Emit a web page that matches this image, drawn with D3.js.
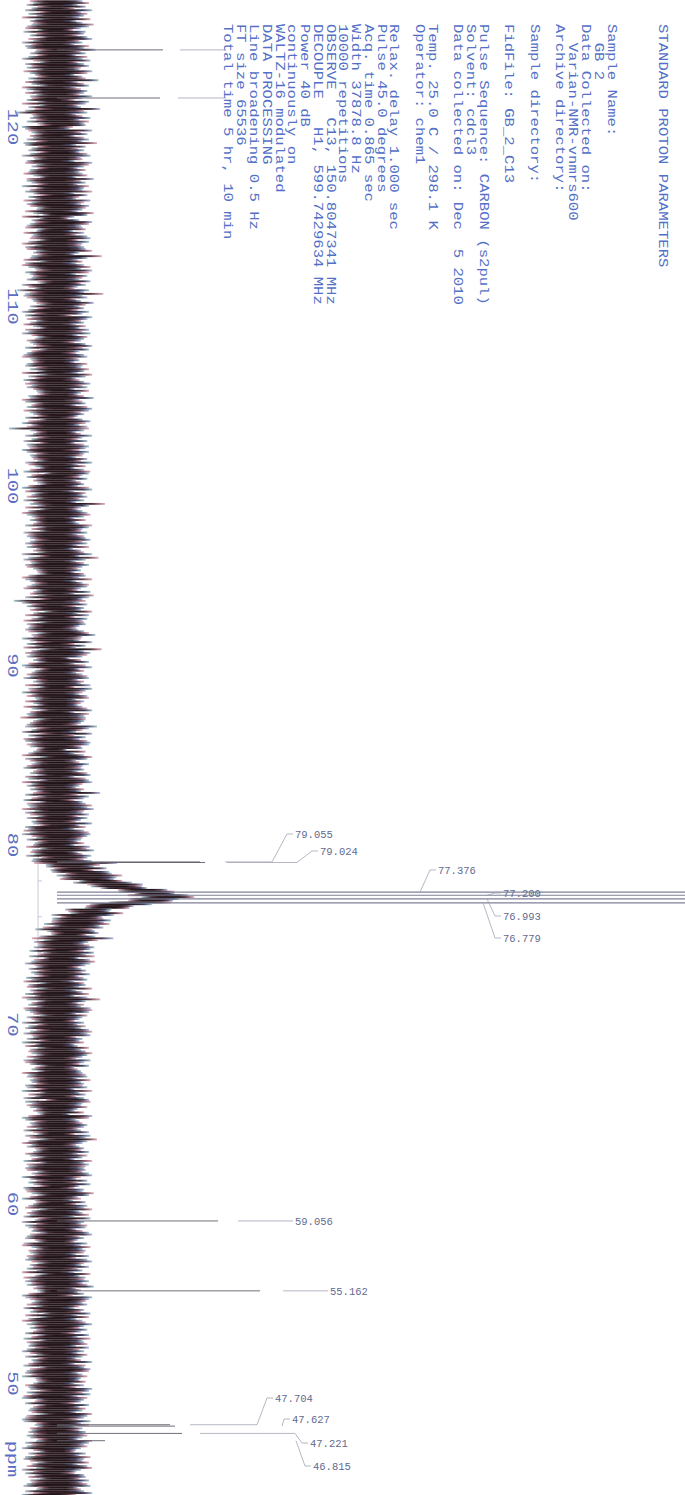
<!DOCTYPE html>
<html>
<head>
<meta charset="utf-8">
<script src="https://cdn.jsdelivr.net/npm/d3@7"></script>
<style>
  html, body { margin: 0; padding: 0; background: #ffffff; }
  svg { display: block; }
</style>
</head>
<body>
<script>
// ---- spectrum window (ppm runs down the page) ----
const ppmTop = 127.07;
const ppmBottom = 43.79;
const tickPpm = [120, 110, 100, 90, 80, 70, 60, 50];
const tickLabels = ["120", "110", "100", "90", "80", "70", "60", "50"];
const unitLabel = "ppm";
const unitLabelPpm = 45.8;

// ---- baseline noise: one row every 0.1 ppm, upper / lower excursion (base-36 digits) ----
const rowTop = 127.0;
const rowStep = 0.1;
const noiseUnit = 1.6;
const noiseHi = [
  "gkdibmfjhelcgnkfaihdjmegbkhoficjgldhkfemjbgiqdhkcf",
  "jhemgbkidfrhjcglekhia8mfjbhkgpcidhejlfgbmkhdiegjcn",
  "fidkhgmbjeclhfkigdnjb7emkfgiahcjldkgfhimebsjdgchlf",
  "mkcjgelfidbkhtgjcfniehdkg9mjfhciekgldjhfbimgkechjd",
  "ebjgfkhdmicehlgjbkfdhnegicjmkfhdbgliejkhcfmgdjbhki",
  "ekhgcjfmdibhlkgejcfhdkmbigjehcukfdgjlhbicemkgfjdhi",
  "lgjdkafhmeqichkgdfbhiemcgkjfdlbnkgiejchfmdkbjghiec",
  "dhkogfembicshljg8fkbimehcgjkdhflbmigejkchfdgjmbkhi",
  "ihfdpkgcmbiejlkfg6ibhmjcekgfhdjlbikmgechfrdkhbgimj",
  "nhgkdjfcmeibhkljgfdhbkimcejgdhwkflbjimgcehkfdjgbhm",
  "ffkhdg9bmicekhlgjdfibhtkecgjhdkflbimjgcehfkdgjbhie",
  "mcgkbjridhflmkcjgebhdifkmjlcgehbdkfimjgclhekbdfgij",
  "dlfhgjbmeichklgfjdbh8mkcegjhdfkblipjgcehfkdjgbmhki",
  "higkmfcjdlebhgnkdfaicjhmegkbldhfjicgkmehdbjflgihck",
  "cjmhfkdgbleihkgjncfdhamkigjebhfldkcgimhejfbkdlghjc",
  "kehdjgcfmbihlkdgjfeibhcmkgldjhfbkeigcmjhdlfkbgeihj",
  "gdmkhjfcbielhgkdjmfcbhiekgjldfhmcibkgjehdflkcmgbih",
  "ihckfjgdmbelkhgjcfdimbhekgjcldhfkmibgjehcdkflgimhj"
].join("");
const noiseLo = [
  "hfjcgkbidmehfgjkcldhbifmgkjdehcimfbkgjdlhecifkgbmj",
  "fkdhgjcmbiekqgfhdjcbmkigehfjdlkcgibhmfejkdgchilfbj",
  "jgcmdhkfbielgjhcdkf9mbgehjkcdlfghbimekjdfcghlbkmie",
  "dkhfgjcbmiephkljgfdbhcimekgjdhlfbkimgcejhfdkbgjlmh",
  "gfjkdhcmbielhkgjfdcbihmkegjdlhfckbimgjuhdfkcglbjih",
  "mjdhgfckiebhl8gjdfcbimhkegjdlfhckbimjgehdfkcgblijh",
  "ehkgjdfcmbilhgkjfdcbimkhegjldfhckbrmgjeh8fkcglbjhi",
  "kicgfmhdjelbgkhjdfcimkbegjhldfckbihmgjedkfclgbhjin",
  "cfhjkdgmbielkgjhcdfimbkhegjldfhckibmgjehdfkcglbjih",
  "mekhcjdgfbkilhmgdjcefkbhigmdjlkefcghbjimdkfhgcjelb",
  "gdjmhckfbleihgkdjnfcbimekhgjdlcfkbhimgejdhfckglbij",
  "bhfkemjcgidlkhfbjgemcikdhlgfjbmekchigdjflkhbegcmij",
  "fhgdkjcmbiel7kgjhdfcbimkehgjdlfckhbimgjedfkhcglbji",
  "kjcgemhdifblkjgchmedfikbgjhlcemdkifgbhjkeclmgdihfj",
  "ikgchfjdmbelhkgjdfcbimkhegjdlfh9kbimgjehdfkcglbjhi",
  "ejmhdkcgfilbhjkgmedcfkihbjglmdekcfhigbjkmldechgifj",
  "hcdkgjmfbieklhcgjdmfkeibhgjlcdkfmehigbjkdlcfgmhejb",
  "dgkmhcjfeiblkgdhjmcfkeibhgdljckmfeghibdjklcmfhgejb"
].join("");

// ---- broad foot of the solvent signal: baseline lift per row from 80.0 ppm down ----
const wingStart = 80.0;
const wing = [
  0, 1, 1, 2, 2, 3, 4, 5, 6, 8,
  9, 11, 13, 16, 19, 22, 26, 30, 34, 38,
  43, 48, 54, 61, 69, 80, 92, 100, 104, 102,
  98, 92, 82, 68, 56, 47, 40, 35, 31, 28,
  26, 24, 22, 20, 19, 17, 16, 15, 14, 13,
  12, 11, 10, 9, 9, 8, 7, 7, 6, 6,
  5, 5, 4, 4, 4, 3, 3, 3, 2, 2,
  2, 1, 1, 1, 1, 0
];

// ---- picked peaks ----
const peakPpm    = [124.29, 121.61, 79.055, 79.024, 77.376, 77.200, 76.993, 76.779, 59.056, 55.162, 47.704, 47.627, 47.221, 46.815];
const peakHeight = [106, 103, 143, 148, 900, 900, 900, 900, 161, 203, 113, 118, 125, 48];
const peakLabeled = [false, false, true, true, true, true, true, true, true, true, true, true, true, true];

// leader layout per peak: start, bend (intensity units), label ppm, label intensity
const leaderStart = [123, 121, 168, 170, 363, 430, 430, 426, 181, 226, 133, 225, 143, 239];
const leaderBend  = [169, 169, 215, 240, 363, 430, 430, 426, 181, 226, 200, 225, 238, 239];
const labelPpm    = [null, null, 80.613, 79.666, 78.607, 77.326, 76.045, 74.819, 59.056, 55.162, 49.192, 48.022, 46.685, 45.404];
const labelInt    = [null, null, 238, 263, 381, 446, 446, 446, 238, 273, 218, 235, 253, 256];

// ---- acquisition parameters block ----
const paramLines = [
  "STANDARD PROTON PARAMETERS",
  "",
  "",
  "",
  "Sample Name:",
  "  GB 2",
  "Data Collected on:",
  "  Varian-NMR-vnmrs600",
  "Archive directory:",
  "",
  "Sample directory:",
  "",
  "FidFile: GB_2_C13",
  "",
  "Pulse Sequence: CARBON (s2pul)",
  "Solvent: cdcl3",
  "Data collected on: Dec  5 2010",
  "",
  "Temp. 25.0 C / 298.1 K",
  "Operator: chem1",
  "",
  "Relax. delay 1.000 sec",
  "Pulse 45.0 degrees",
  "Acq. time 0.865 sec",
  "Width 37878.8 Hz",
  "10000 repetitions",
  "OBSERVE   C13, 150.8047341 MHz",
  "DECOUPLE   H1, 599.7429634 MHz",
  "Power 40 dB",
  "continuously on",
  "WALTZ-16 modulated",
  "DATA PROCESSING",
  "Line broadening 0.5 Hz",
  "FT size 65536",
  "Total time 5 hr, 10 min"
];

// ================= drawing =================
const W = 685, H = 1495;
const svg = d3.select("body").append("svg")
  .attr("width", W).attr("height", H)
  .attr("viewBox", `0 0 ${W} ${H}`);

const y = d3.scaleLinear().domain([ppmTop, ppmBottom]).range([0, H]);
const x = d3.scaleLinear().domain([0, 628]).range([57, 685]);

const defs = svg.append("defs");
const gradSpecs = [
  { id: "rowA", stops: [[0, "#e2b3c4"], [0.16, "#6a4450"], [0.3, "#2a181d"], [0.7, "#23151a"], [0.86, "#4a3a4e"], [1, "#b4c0e6"]] },
  { id: "rowB", stops: [[0, "#a9cbd4"], [0.18, "#46323b"], [0.32, "#21141a"], [0.68, "#1f1418"], [0.84, "#5a3a48"], [1, "#e0b0c2"]] },
  { id: "rowC", stops: [[0, "#c4c4dc"], [0.18, "#3e2c33"], [0.34, "#26181c"], [0.7, "#2b1c21"], [0.86, "#3e3f5e"], [1, "#a8c6d0"]] }
];
gradSpecs.forEach(g => {
  const lg = defs.append("linearGradient").attr("id", g.id)
    .attr("x1", "0").attr("x2", "1").attr("y1", "0").attr("y2", "0");
  g.stops.forEach(s => lg.append("stop").attr("offset", s[0]).attr("stop-color", s[1]));
});

// axis line with minor ticks
const axisX = x(-19);
svg.append("line")
  .attr("x1", axisX).attr("x2", axisX).attr("y1", 0).attr("y2", H)
  .attr("stroke", "#b9bdcc").attr("stroke-width", 0.8);
const minorTicks = d3.range(126, 43, -2);
svg.append("g").selectAll("line").data(minorTicks).join("line")
  .attr("x1", axisX).attr("x2", axisX + 4)
  .attr("y1", d => y(d)).attr("y2", d => y(d))
  .attr("stroke", "#b9bdcc").attr("stroke-width", 0.8);

// noise rows
const nRows = Math.min(noiseHi.length, noiseLo.length);
const rows = d3.range(nRows).map(i => {
  const ppm = rowTop - i * rowStep;
  const wi = Math.round((wingStart - ppm) / rowStep);
  const base = (wi >= 0 && wi < wing.length) ? wing[wi] : 0;
  return {
    i, ppm,
    lo: base - parseInt(noiseLo[i], 36) * noiseUnit,
    hi: base + parseInt(noiseHi[i], 36) * noiseUnit
  };
}).filter(d => d.ppm >= ppmBottom - 0.2);

svg.append("g").selectAll("rect").data(rows).join("rect")
  .attr("x", d => x(d.lo))
  .attr("width", d => Math.max(0.5, x(d.hi) - x(d.lo)))
  .attr("y", d => y(d.ppm) - 0.95)
  .attr("height", 1.9)
  .attr("fill", d => `url(#${gradSpecs[d.i % 3].id})`);

// peak lines
const peaks = peakPpm.map((p, i) => ({
  ppm: p, h: peakHeight[i], labeled: peakLabeled[i],
  start: leaderStart[i], bend: leaderBend[i], lp: labelPpm[i], li: labelInt[i]
}));

svg.append("g").selectAll("line").data(peaks).join("line")
  .attr("x1", x(0)).attr("x2", d => Math.min(W + 2, x(d.h)))
  .attr("y1", d => y(d.ppm)).attr("y2", d => y(d.ppm))
  .attr("stroke", d => d.h > 600 ? "#70718b" : "#625e6b")
  .attr("stroke-width", d => d.h > 600 ? 1.2 : 1)
  .attr("stroke-opacity", 0.9);

// leaders
const leaderLine = d3.line();
svg.append("g").selectAll("path").data(peaks).join("path")
  .attr("d", d => {
    const pts = [[x(d.start), y(d.ppm)], [x(d.bend), y(d.ppm)]];
    if (d.labeled) {
      pts.push([x(d.li) - 8, y(d.lp)]);
      pts.push([x(d.li) - 2, y(d.lp)]);
    }
    return leaderLine(pts);
  })
  .attr("fill", "none")
  .attr("stroke", "#a2a5b6")
  .attr("stroke-width", 0.8);

// peak labels (value of each labelled peak)
svg.append("g").selectAll("text").data(peaks.filter(d => d.labeled)).join("text")
  .attr("x", d => x(d.li))
  .attr("y", d => y(d.lp))
  .attr("dy", "0.35em")
  .attr("font-family", "'Liberation Mono', 'DejaVu Sans Mono', monospace")
  .attr("font-size", 10.5)
  .attr("fill", "#5f6a90")
  .text(d => d.ppm.toFixed(3));

// ppm tick labels, turned with the page
const tickG = svg.append("g")
  .attr("font-family", "'Liberation Mono', 'DejaVu Sans Mono', monospace")
  .attr("font-size", 14.5)
  .attr("fill", "#5a6ec2");
tickG.selectAll("text").data(tickPpm).join("text")
  .attr("transform", d => `translate(13,${y(d)}) rotate(90) scale(1.4,1)`)
  .attr("text-anchor", "middle")
  .attr("dy", "0.35em")
  .text((d, i) => tickLabels[i]);
tickG.append("text")
  .attr("transform", `translate(13,${y(unitLabelPpm)}) rotate(90) scale(1.4,1)`)
  .attr("text-anchor", "middle")
  .attr("dy", "0.35em")
  .text(unitLabel);

// parameter block, first line on the right, lines advancing leftwards
const textX0 = 663, textPitch = 12.77, textY0 = 24;
const paramG = svg.append("g")
  .attr("font-family", "'Liberation Mono', 'DejaVu Sans Mono', monospace")
  .attr("font-size", 12.5)
  .attr("fill", "#5270c6")
  .style("white-space", "pre");
paramG.selectAll("text").data(paramLines.map((t, i) => ({ t, i })).filter(d => d.t.length))
  .join("text")
  .attr("transform", d => `translate(${textX0 - d.i * textPitch},${textY0}) rotate(90) scale(1.25,1)`)
  .attr("dy", "0.35em")
  .attr("xml:space", "preserve")
  .text(d => d.t);
</script>
</body>
</html>
